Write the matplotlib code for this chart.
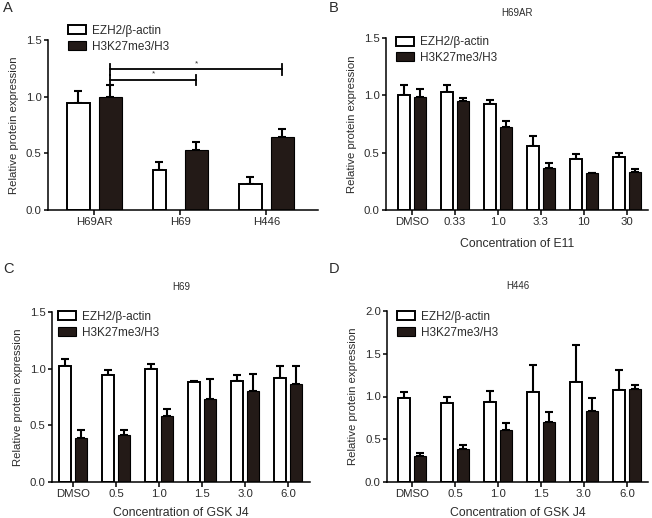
import numpy as np
import matplotlib
matplotlib.use('Agg')
import matplotlib.pyplot as plt
from matplotlib.patches import Patch

plt.rcParams['font.family'] = ['Liberation Sans', 'DejaVu Sans']

# Data
series_names = ['EZH2/\u03b2-actin', 'H3K27me3/H3']

cells_a = ['H69AR', 'H69', 'H446']
ezh2_a = [0.94, 0.353, 0.23]
ezh2_a_err = [0.11, 0.073, 0.059]
h3_a = [1.0, 0.53, 0.64]
h3_a_err = [0.10, 0.073, 0.072]

conc_b = ['DMSO', '0.33', '1.0', '3.3', '10', '30']
ezh2_b = [1.0, 1.026, 0.921, 0.56, 0.443, 0.466]
ezh2_b_err = [0.087, 0.061, 0.041, 0.084, 0.044, 0.03]
h3_b = [0.985, 0.948, 0.723, 0.367, 0.321, 0.335]
h3_b_err = [0.067, 0.029, 0.05, 0.047, 0.004, 0.024]

conc_cd = ['DMSO', '0.5', '1.0', '1.5', '3.0', '6.0']
ezh2_c = [1.026, 0.942, 0.994, 0.878, 0.887, 0.922]
ezh2_c_err = [0.058, 0.046, 0.044, 0.017, 0.055, 0.104]
h3_c = [0.387, 0.416, 0.584, 0.735, 0.80, 0.866]
h3_c_err = [0.069, 0.043, 0.061, 0.175, 0.153, 0.16]

ezh2_d = [0.977, 0.923, 0.931, 1.054, 1.173, 1.081]
ezh2_d_err = [0.077, 0.077, 0.138, 0.311, 0.427, 0.227]
h3_d = [0.30, 0.388, 0.608, 0.704, 0.827, 1.088]
h3_d_err = [0.042, 0.05, 0.084, 0.111, 0.15, 0.05]

W, H = 652, 518
dark = '#231a17'
txt = '#2b2b2b'

fig = plt.figure(figsize=(W / 100, H / 100), dpi=100)


def make_axes(l, r, t, b):
    return fig.add_axes([l / W, 1 - b / H, (r - l) / W, (b - t) / H])


def panel(ax, labels, v1, e1, v2, e2, ymax, xlim, width, gap, w1=None):
    x = np.arange(len(labels))
    c = gap / 2 + width / 2          # distance from group centre to bar centre
    w1 = np.full(len(x), width) if w1 is None else np.asarray(w1)
    left1 = x - c - width / 2
    ax.bar(left1, v1, width=w1, align='edge', color='white',
           edgecolor='black', linewidth=1.4, zorder=2)
    ax.bar(x + c, v2, width=width, color=dark, edgecolor='black',
           linewidth=0.8, zorder=2)
    ax.errorbar(left1 + w1 / 2, v1, yerr=[np.zeros(len(v1)), e1], fmt='none',
                ecolor='black', elinewidth=1.5, capsize=2.6, capthick=1.5, zorder=1)
    ax.errorbar(x + c, v2, yerr=[np.zeros(len(v2)), e2], fmt='none',
                ecolor='black', elinewidth=1.5, capsize=2.6, capthick=1.5, zorder=1)
    ax.set_xlim(*xlim)
    ax.set_ylim(0, ymax)
    yt = np.arange(0, ymax + 0.01, 0.5)
    ax.set_yticks(yt)
    ax.set_yticklabels(['%.1f' % v for v in yt])
    ax.set_xticks(x)
    ax.set_xticklabels(labels)
    for s in ['top', 'right']:
        ax.spines[s].set_visible(False)
    for s in ['left', 'bottom']:
        ax.spines[s].set_linewidth(1.1)
    ax.tick_params(axis='x', length=3.5, width=1.1, pad=1.5, labelsize=8.2, labelcolor=txt)
    ax.tick_params(axis='y', length=3, width=1.1, pad=1.5, labelsize=8.2, labelcolor=txt)
    ax.set_ylabel('Relative protein expression', fontsize=8.2, color=txt, va='center')
    return c


def add_legend(ax, bx, by):
    handles = [Patch(facecolor='white', edgecolor='black', linewidth=1.4),
               Patch(facecolor=dark, edgecolor='black', linewidth=0.8)]
    ax.legend(handles, series_names, loc='upper left', bbox_to_anchor=(bx, by),
              frameon=False, fontsize=8.5, handlelength=1.55, handleheight=0.8,
              handletextpad=0.5, labelspacing=0.32, borderpad=0, borderaxespad=0,
              labelcolor=txt)


# Panel A
axA = make_axes(48, 318, 40, 210)
wA = 0.267
cA = panel(axA, cells_a, ezh2_a, ezh2_a_err, h3_a, h3_a_err, 1.5, (-0.54, 2.6),
           wA, 0.105, w1=[wA, 0.15, wA])
axA.yaxis.set_label_coords(-34 / 270, 0.5)
add_legend(axA, 0.074, 1.088)
# significance brackets
for xr, yb, star_y in [(2 + cA, 1.24, 1.29), (1 + cA, 1.15, 1.20)]:
    axA.plot([cA, xr], [yb, yb], color='black', lw=1.3)
    axA.plot([cA, cA], [yb - 0.045, yb + 0.045], color='black', lw=1.3)
    axA.plot([xr, xr], [yb - 0.045, yb + 0.045], color='black', lw=1.3)
    axA.text((cA + xr) / 2, star_y, '*', ha='center', va='center', fontsize=6, color=txt)

# Panel B
axB = make_axes(386, 648, 38, 210)
panel(axB, conc_b, ezh2_b, ezh2_b_err, h3_b, h3_b_err, 1.5, (-0.6, 5.49), 0.28, 0.093)
axB.yaxis.set_label_coords(-34 / 262, 0.5)
add_legend(axB, 0.038, 1.01)
axB.text(0.5, 1 + 25 / 172, 'H69AR', transform=axB.transAxes, ha='center',
         va='center', fontsize=7, color=txt)
axB.set_xlabel('Concentration of E11', fontsize=8.8, color=txt)
axB.xaxis.set_label_coords(0.5, -28 / 172)

# Panel C
axC = make_axes(52, 310, 312, 482)
panel(axC, conc_cd, ezh2_c, ezh2_c_err, h3_c, h3_c_err, 1.5, (-0.49, 5.51), 0.28, 0.093)
axC.yaxis.set_label_coords(-34 / 258, 0.5)
add_legend(axC, 0.023, 1.006)
axC.text(0.5, 1 + 25 / 170, 'H69', transform=axC.transAxes, ha='center',
         va='center', fontsize=7, color=txt)
axC.set_xlabel('Concentration of GSK J4', fontsize=8.8, color=txt)
axC.xaxis.set_label_coords(0.5, -25 / 170)

# Panel D
axD = make_axes(387, 648, 311, 482)
panel(axD, conc_cd, ezh2_d, ezh2_d_err, h3_d, h3_d_err, 2.0, (-0.58, 5.49), 0.28, 0.093)
axD.yaxis.set_label_coords(-34 / 261, 0.5)
add_legend(axD, 0.038, 1.0)
axD.text(0.5, 1 + 25 / 171, 'H446', transform=axD.transAxes, ha='center',
         va='center', fontsize=7, color=txt)
axD.set_xlabel('Concentration of GSK J4', fontsize=8.8, color=txt)
axD.xaxis.set_label_coords(0.5, -25 / 171)

# Panel letters
for lx, ly, lab in [(3, 8, 'A'), (329, 8, 'B'), (3, 269, 'C'), (329, 269, 'D')]:
    fig.text(lx / W, 1 - ly / H, lab, ha='left', va='center', fontsize=10.5, color=txt)

fig.savefig('out.png', dpi=100)
